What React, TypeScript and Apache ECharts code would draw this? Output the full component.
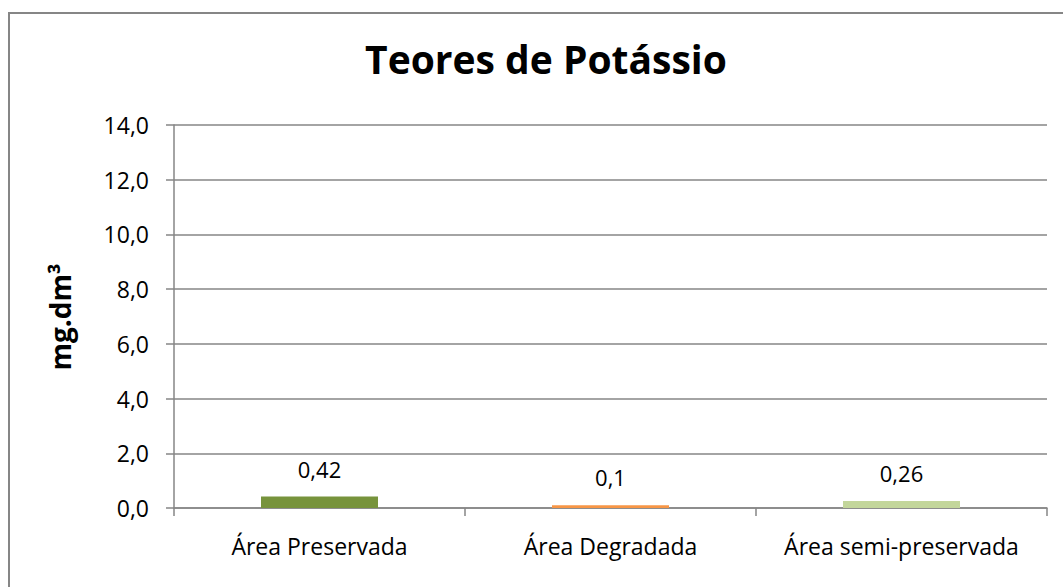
import React, { useEffect, useRef } from "react";
import * as echarts from "echarts";

const categories = ["Área Preservada", "Área Degradada", "Área semi-preservada"];
const values = [0.42, 0.1, 0.26];
const barColors = ["#77933c", "#f79646", "#c3d69b"];
const yTicks = [0, 2, 4, 6, 8, 10, 12, 14];

const FONT = "'Open Sans', 'Noto Sans', sans-serif";

export default function App() {
  const ref = useRef<HTMLDivElement>(null);
  useEffect(() => {
    if (!ref.current) return;
    const chart = echarts.init(ref.current, undefined, { renderer: "svg" });
    chart.setOption({
      animation: false,
      backgroundColor: "#ffffff",
      textStyle: { fontFamily: FONT },
      title: {
        text: "Teores de Potássio",
        left: 541,
        textAlign: "center",
        top: 34,
        textStyle: { fontFamily: FONT, fontSize: 39, fontWeight: "bold", color: "#000" },
      },
      graphic: [
        {
          type: "rect",
          shape: { x: 9, y: 13, width: 1100, height: 600 },
          style: { fill: "none", stroke: "#868686", lineWidth: 2 },
          silent: true,
        },
        {
          type: "text",
          x: 60,
          y: 317,
          rotation: Math.PI / 2,
          style: {
            text: "mg.dm³",
            fontFamily: FONT,
            fontSize: 28,
            fontWeight: "bold",
            fill: "#000",
            align: "center",
            verticalAlign: "middle",
          },
        },
      ],
      grid: { left: 174, right: 16, top: 125, bottom: 79, containLabel: false },
      xAxis: {
        type: "category",
        data: categories,
        axisLine: { show: true, lineStyle: { color: "#868686", width: 1.5 } },
        axisTick: { show: true, alignWithLabel: false, length: 8, lineStyle: { color: "#868686", width: 1.5 } },
        axisLabel: { interval: 0, hideOverlap: false, color: "#000", fontSize: 23, fontFamily: FONT, margin: 26 },
      },
      yAxis: {
        type: "value",
        min: yTicks[0],
        max: yTicks[yTicks.length - 1],
        interval: 2,
        axisLine: { show: true, lineStyle: { color: "#868686", width: 1.5 } },
        axisTick: { show: true, inside: false, length: 8, lineStyle: { color: "#868686", width: 1.5 } },
        splitLine: { show: true, lineStyle: { color: "#868686", width: 1.5 } },
        axisLabel: {
          color: "#000",
          fontSize: 23,
          fontFamily: FONT,
          margin: 25,
          formatter: (v: number) => v.toFixed(1).replace(".", ","),
        },
      },
      series: [
        {
          type: "bar",
          barWidth: 117,
          data: values.map((v, i) => ({ value: v, itemStyle: { color: barColors[i] } })),
          label: {
            show: true,
            position: "top",
            distance: 17,
            color: "#000",
            fontSize: 22,
            fontFamily: FONT,
            formatter: (p: any) => String(p.value).replace(".", ","),
          },
        },
      ],
    });
    return () => chart.dispose();
  }, []);
  return (
    <div
      ref={ref}
      style={{ position: "absolute", left: 0, top: 0, width: 1063, height: 587 }}
    />
  );
}
